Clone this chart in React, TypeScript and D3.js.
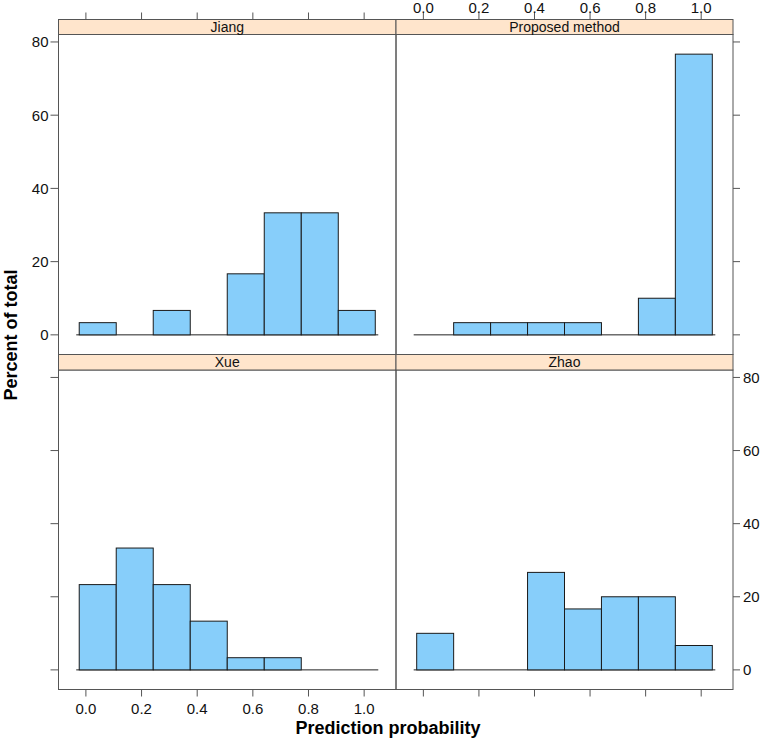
import React from "react";
import * as d3 from "d3";

const PANEL_NAMES = ["Jiang", "Proposed method", "Xue", "Zhao"];
const BREAKS = [-0.024, 0.109, 0.242, 0.375, 0.508, 0.641, 0.774, 0.907, 1.04];
const JIANG = [3.33, 0, 6.67, 0, 16.67, 33.33, 33.33, 6.67];
const PROPOSED = [0, 3.33, 3.33, 3.33, 3.33, 0, 10, 76.67];
const XUE = [23.33, 33.33, 23.33, 13.33, 3.33, 3.33, 0, 0];
const ZHAO = [10, 0, 0, 26.67, 16.67, 20, 20, 6.67];
const X_TICKS = [0, 0.2, 0.4, 0.6, 0.8, 1.0];
const Y_TICKS = [0, 20, 40, 60, 80];
const X_LABEL = "Prediction probability";
const Y_LABEL = "Percent of total";

const SERIES = [JIANG, PROPOSED, XUE, ZHAO];

const W = 762;
const H = 739;
const FONT = "'Liberation Sans', Arial, Helvetica, sans-serif";
const FILL = "#87CEFA";
const STRIP = "#FFE5CC";
const BORDER = "#555555";

const COLS = [58.5, 396, 733];
const ROWS = [
  { stripTop: 19.5, plotTop: 34.5, plotBottom: 354.5 },
  { stripTop: 354.5, plotTop: 370, plotBottom: 689.5 },
];

export default function App() {
  const allMax = d3.max(SERIES.flat()) as number;
  const bw = BREAKS[BREAKS.length - 1] - BREAKS[0];
  const xDom: [number, number] = [BREAKS[0] - 0.07 * bw, BREAKS[BREAKS.length - 1] + 0.07 * bw];
  const yDom: [number, number] = [0 - 0.07 * allMax, allMax * 1.07];

  const panels = SERIES.map((vals, i) => {
    const r = Math.floor(i / 2);
    const c = i % 2;
    const row = ROWS[r];
    const x = d3.scaleLinear().domain(xDom).range([COLS[c], COLS[c + 1]]);
    const y = d3.scaleLinear().domain(yDom).range([row.plotBottom, row.plotTop]);
    return { vals, r, c, row, x, y, name: PANEL_NAMES[i] };
  });

  const tickLen = 7;

  return (
    <svg
      width={W}
      height={H}
      style={{ position: "absolute", left: 0, top: 0, background: "#fff" }}
      fontFamily={FONT}
    >
      <rect x={0} y={0} width={W} height={H} fill="#fff" />
      {panels.map((p) => {
        const { x, y, row, vals, r, c } = p;
        const left = COLS[c];
        const right = COLS[c + 1];
        return (
          <g key={p.name}>
            <line
              x1={x(BREAKS[0]) - 3}
              x2={x(BREAKS[BREAKS.length - 1]) + 3}
              y1={y(0)}
              y2={y(0)}
              stroke="#222"
              strokeWidth={1}
            />
            {vals.map((v, k) => (
              <rect
                key={k}
                x={x(BREAKS[k])}
                y={y(v)}
                width={x(BREAKS[k + 1]) - x(BREAKS[k])}
                height={y(0) - y(v)}
                fill={FILL}
                stroke="#1a1a1a"
                strokeWidth={1}
              />
            ))}
            <rect
              x={left}
              y={row.plotTop}
              width={right - left}
              height={row.plotBottom - row.plotTop}
              fill="none"
              stroke={BORDER}
              strokeWidth={1}
            />
            <rect
              x={left}
              y={row.stripTop}
              width={right - left}
              height={row.plotTop - row.stripTop}
              fill={STRIP}
              stroke={BORDER}
              strokeWidth={1}
            />
            <text
              x={(left + right) / 2}
              y={row.plotTop - 3}
              textAnchor="middle"
              fontSize={14}
              fill="#111"
            >
              {p.name}
            </text>
            {r === 0 &&
              X_TICKS.map((t) => (
                <g key={"tx" + t}>
                  <line
                    x1={x(t)}
                    x2={x(t)}
                    y1={row.stripTop}
                    y2={row.stripTop - tickLen}
                    stroke={BORDER}
                  />
                  {c === 1 && (
                    <text x={x(t)} y={13} textAnchor="middle" fontSize={15} fill="#111">
                      {d3.format(".1f")(t)}
                    </text>
                  )}
                </g>
              ))}
            {r === 1 &&
              X_TICKS.map((t) => (
                <g key={"bx" + t}>
                  <line
                    x1={x(t)}
                    x2={x(t)}
                    y1={row.plotBottom}
                    y2={row.plotBottom + tickLen}
                    stroke={BORDER}
                  />
                  {c === 0 && (
                    <text
                      x={x(t)}
                      y={row.plotBottom + 24}
                      textAnchor="middle"
                      fontSize={15}
                      fill="#111"
                    >
                      {d3.format(".1f")(t)}
                    </text>
                  )}
                </g>
              ))}
            {c === 0 &&
              Y_TICKS.map((t) => (
                <g key={"ly" + t}>
                  <line x1={left} x2={left - 8} y1={y(t)} y2={y(t)} stroke={BORDER} />
                  {r === 0 && (
                    <text
                      x={left - 10}
                      y={y(t)}
                      dy="0.36em"
                      textAnchor="end"
                      fontSize={15}
                      fill="#111"
                    >
                      {t}
                    </text>
                  )}
                </g>
              ))}
            {c === 1 &&
              Y_TICKS.map((t) => (
                <g key={"ry" + t}>
                  <line x1={right} x2={right + 7} y1={y(t)} y2={y(t)} stroke={BORDER} />
                  {r === 1 && (
                    <text
                      x={right + 10}
                      y={y(t)}
                      dy="0.36em"
                      textAnchor="start"
                      fontSize={15}
                      fill="#111"
                    >
                      {t}
                    </text>
                  )}
                </g>
              ))}
          </g>
        );
      })}
      <text
        x={388}
        y={734}
        textAnchor="middle"
        fontSize={18}
        fontWeight="bold"
        fill="#000"
      >
        {X_LABEL}
      </text>
      <text
        transform={`translate(16.5,335) rotate(-90)`}
        textAnchor="middle"
        fontSize={18}
        fontWeight="bold"
        fill="#000"
      >
        {Y_LABEL}
      </text>
    </svg>
  );
}
